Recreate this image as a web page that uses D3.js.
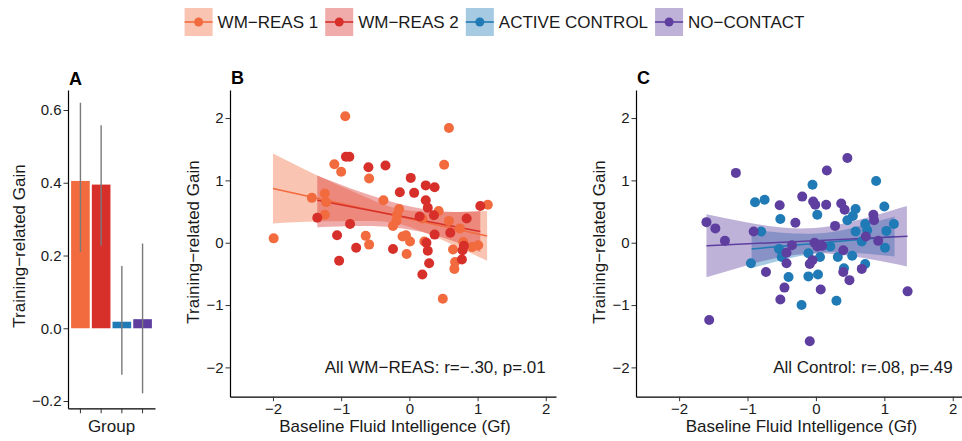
<!DOCTYPE html>
<html>
<head>
<meta charset="utf-8">
<script src="https://cdn.jsdelivr.net/npm/d3@7"></script>
<style>
  body { margin: 0; background: #fff; }
  text { font-family: "Liberation Sans", Arial, Helvetica, sans-serif; }
</style>
</head>
<body>
<script>
// ---- data ----
var groups = ["WM\u2212REAS 1", "WM\u2212REAS 2", "ACTIVE CONTROL", "NO\u2212CONTACT"];

// panel A: mean gain and error bar ends per group
var barMeans = [0.405, 0.395, 0.018, 0.025];
var barLow   = [0.210, 0.227, -0.128, -0.179];
var barHigh  = [0.620, 0.558, 0.171, 0.233];

// panel B points [Gf, gain]
var wm1Points = [[-0.94,2.03],[0.58,1.84],[-1.10,1.26],[-1.00,1.14],[-0.59,1.03],[0.51,1.25],
  [-1.43,0.72],[-1.24,0.79],[-1.22,0.65],[-1.24,0.45],[-0.38,0.68],[-0.15,0.54],[-0.18,0.45],
  [0.43,0.51],[0.19,0.39],[-0.19,0.35],[-0.24,0.27],[-0.64,0.11],[-0.59,-0.03],[-0.10,0.10],
  [-0.05,0.12],[0.01,0.02],[-0.04,-0.18],[0.22,0.02],[0.49,-0.90],[0.58,0.35],[0.64,-0.11],
  [0.67,-0.31],[0.66,-0.42],[0.74,0.23],[0.79,0.01],[0.92,-0.07],[1.01,-0.04],[1.15,0.61],[-1.99,0.07]];
var wm2Points = [[-0.93,1.38],[-0.88,1.38],[-0.60,1.21],[-0.35,1.24],[0.02,1.04],[-0.14,0.81],
  [0.07,0.80],[0.24,0.92],[0.37,0.89],[-1.35,0.40],[0.24,0.68],[0.27,0.56],[0.36,0.44],[0.15,0.42],
  [-0.87,0.30],[-1.06,0.12],[-1.03,-0.29],[-0.78,-0.08],[-0.24,-0.10],[0.19,-0.51],[0.25,0.00],
  [0.27,-0.13],[0.29,-0.33],[0.37,0.13],[0.60,0.16],[0.84,0.39],[0.78,-0.12],[0.77,-0.27],
  [1.04,0.59],[0.80,-0.05]];

// panel C points
var activePoints = [[-0.05,0.93],[0.88,0.99],[-0.89,0.65],[-0.75,0.69],[-0.52,0.38],[0.02,0.45],
  [0.58,0.54],[0.54,0.43],[0.46,0.36],[1.00,0.58],[-0.80,0.18],[0.72,0.30],[0.75,0.20],[0.58,0.18],
  [0.67,0.02],[1.03,0.19],[1.14,0.30],[1.01,-0.08],[-0.54,-0.10],[-0.50,-0.23],[0.21,-0.06],
  [0.06,-0.23],[-0.11,-0.17],[0.32,-0.23],[0.53,-0.21],[0.72,-0.34],[0.41,-0.41],[-0.95,-0.33],
  [-0.40,-0.55],[-0.11,-0.54],[0.03,-0.51],[-0.21,-1.00],[0.30,-0.93]];
var noContactPoints = [[0.46,1.36],[-1.17,1.12],[0.16,1.16],[-0.20,0.74],[-0.04,0.66],[-0.01,0.61],
  [0.15,0.61],[0.37,0.63],[0.42,0.53],[-0.53,0.60],[0.84,0.45],[0.85,0.36],[-0.30,0.32],[0.28,0.27],
  [-1.60,0.33],[-1.47,0.23],[-1.33,0.03],[-0.91,0.18],[0.73,0.10],[0.91,0.03],[-0.35,-0.04],
  [-0.43,-0.16],[-0.02,0.00],[0.02,-0.06],[0.09,-0.05],[-0.05,-0.28],[-0.09,-0.34],[0.40,-0.12],
  [0.67,-0.42],[0.40,-0.47],[0.49,-0.60],[-0.73,-0.47],[-0.43,-0.33],[-0.46,-0.72],[0.07,-0.75],
  [-0.52,-0.91],[1.34,-0.78],[-1.56,-1.24],[-0.09,-1.58]];

// fitted lines [x0, y0, x1, y1] and confidence bands [x, low, high]
var wm1Fit = [-2.0, 0.87, 1.14, 0.107];
var wm2Fit = [-1.35, 0.68, 1.04, 0.18];
var activeFit = [-0.94, -0.10, 1.15, 0.10];
var noContactFit = [-1.60, -0.05, 1.34, 0.105];
var wm1Band = [[-2.0,0.31,1.43],[-1.35,0.34,1.08],[-0.7,0.35,0.76],[-0.15,0.30,0.54],[0.5,0.035,0.49],[1.14,-0.29,0.51]];
var wm2Band = [[-1.35,0.25,1.08],[-0.7,0.27,0.81],[-0.1,0.23,0.61],[0.5,0.08,0.50],[1.04,-0.15,0.51]];
var activeBand = [[-0.94,-0.41,0.21],[-0.5,-0.28,0.16],[0.0,-0.17,0.15],[0.5,-0.155,0.23],[1.15,-0.22,0.42]];
var noContactBand = [[-1.6,-0.555,0.455],[-1.0,-0.36,0.325],[-0.4,-0.21,0.235],[0.2,-0.175,0.265],[0.8,-0.266,0.42],[1.33,-0.38,0.59]];

var xTicks = [-2, -1, 0, 1, 2],
    yTicks = [-2, -1, 0, 1, 2],
    barTicks = [-0.2, 0, 0.2, 0.4, 0.6];

// ---- setup ----
var width = 962, height = 441;
var font = '"Liberation Sans", Arial, Helvetica, sans-serif';
var ink = "#1a1a1a";

var colour = d3.scaleOrdinal()
    .domain(groups)
    .range(["#f26b3f", "#d7302a", "#1f7ab5", "#5e3fa0"]);
var bandOpacity = 0.4;

var svg = d3.select("body").append("svg")
    .attr("width", width)
    .attr("height", height);

function styleAxis(g) {
    g.attr("font-family", font);
    g.select(".domain").attr("stroke", "#000").attr("stroke-width", 1.2);
    g.selectAll(".tick line").attr("stroke", "#333").attr("stroke-width", 1);
    g.selectAll(".tick text").attr("font-size", "15px").attr("fill", ink);
}

function yTitle(x, y) {
    svg.append("text")
        .text("Training\u2212related Gain")
        .attr("transform", "translate(" + x + "," + y + ") rotate(-90)")
        .attr("text-anchor", "middle")
        .attr("font-size", "17px")
        .attr("fill", ink);
}

function panelLabel(t, x, y) {
    svg.append("text")
        .text(t)
        .attr("x", x)
        .attr("y", y)
        .attr("font-size", "18px")
        .attr("font-weight", 700)
        .attr("fill", "#000");
}

// ==== Panel A : bar chart ====
var yA = d3.scaleLinear().domain([-0.22, 0.655]).range([408.3, 90]);
var xA = d3.scaleBand().domain(groups).range([68, 155]).paddingInner(0.1).paddingOuter(0.15);

var barG = svg.append("g");
groups.forEach(function(g, i) {
    var v = barMeans[i];
    barG.append("rect")
        .attr("x", xA(g))
        .attr("width", xA.bandwidth())
        .attr("y", yA(Math.max(0, v)))
        .attr("height", Math.abs(yA(v) - yA(0)))
        .attr("fill", colour(g));
    barG.append("line")
        .attr("x1", xA(g) + xA.bandwidth() / 2)
        .attr("x2", xA(g) + xA.bandwidth() / 2)
        .attr("y1", yA(barLow[i]))
        .attr("y2", yA(barHigh[i]))
        .attr("stroke", "#7a7a7a")
        .attr("stroke-width", 1.4);
});

svg.append("g")
    .attr("transform", "translate(68,0)")
    .call(d3.axisLeft(yA).tickValues(barTicks).tickFormat(d3.format(".1f")).tickSize(4.5).tickPadding(2).tickSizeOuter(0))
    .call(styleAxis);
svg.append("g")
    .attr("transform", "translate(0,408.3)")
    .call(d3.axisBottom(xA).tickFormat("").tickSize(5).tickSizeOuter(0))
    .call(styleAxis);

svg.append("text").text("Group")
    .attr("x", 111.5).attr("y", 432)
    .attr("text-anchor", "middle").attr("font-size", "17px").attr("fill", ink);
yTitle(25, 246);
panelLabel("A", 69, 85);

// ==== Panels B and C : scatter plots ====
function drawScatter(p) {
    var x = d3.scaleLinear().domain([-2.63, 2.15]).range([p.left, p.right]);
    var y = d3.scaleLinear().domain([-2.47, 2.45]).range([396.7, 90]);
    var g = svg.append("g");

    var area = d3.area()
        .x(function(d) { return x(d[0]); })
        .y0(function(d) { return y(d[1]); })
        .y1(function(d) { return y(d[2]); })
        .curve(d3.curveNatural);

    p.series.forEach(function(s) {
        g.append("path")
            .attr("d", area(s.band))
            .attr("fill", colour(s.group))
            .attr("fill-opacity", bandOpacity);
    });
    p.series.forEach(function(s) {
        g.append("line")
            .attr("x1", x(s.fit[0])).attr("y1", y(s.fit[1]))
            .attr("x2", x(s.fit[2])).attr("y2", y(s.fit[3]))
            .attr("stroke", colour(s.group))
            .attr("stroke-width", 1.5);
    });
    p.series.forEach(function(s) {
        g.selectAll(null)
            .data(s.points)
            .enter().append("circle")
            .attr("cx", function(d) { return x(d[0]); })
            .attr("cy", function(d) { return y(d[1]); })
            .attr("r", 5)
            .attr("fill", colour(s.group));
    });

    svg.append("g")
        .attr("transform", "translate(" + p.left + ",0)")
        .call(d3.axisLeft(y).tickValues(yTicks).tickFormat(d3.format("d")).tickSize(4.5).tickPadding(2).tickSizeOuter(0))
        .call(styleAxis);
    svg.append("g")
        .attr("transform", "translate(0,396.7)")
        .call(d3.axisBottom(x).tickValues(xTicks).tickFormat(d3.format("d")).tickSize(4.5).tickPadding(2).tickSizeOuter(0))
        .call(styleAxis);

    svg.append("text").text(p.note)
        .attr("x", x(2)).attr("y", y(-2.09))
        .attr("text-anchor", "end").attr("font-size", "17px").attr("fill", ink);
    svg.append("text").text("Baseline Fluid Intelligence (Gf)")
        .attr("x", (p.left + p.right) / 2 + 2).attr("y", 432)
        .attr("text-anchor", "middle").attr("font-size", "17px").attr("fill", ink);
    yTitle(p.left - 31, 242);
    panelLabel(p.label, p.left + 1, 84);
}

drawScatter({
    left: 230, right: 556, label: "B",
    note: "All WM\u2212REAS: r=\u2212.30, p=.01",
    series: [
        { group: groups[0], points: wm1Points, fit: wm1Fit, band: wm1Band },
        { group: groups[1], points: wm2Points, fit: wm2Fit, band: wm2Band }
    ]
});
drawScatter({
    left: 636, right: 963, label: "C",
    note: "All Control: r=.08, p=.49",
    series: [
        { group: groups[2], points: activePoints, fit: activeFit, band: activeBand },
        { group: groups[3], points: noContactPoints, fit: noContactFit, band: noContactBand }
    ]
});

// ==== Legend ====
var key = 28, keyGap = 5, itemGap = 7;
var leg = svg.append("g");
var cursor = 0;
groups.forEach(function(g) {
    var item = leg.append("g").attr("transform", "translate(" + cursor + ",0)");
    item.append("rect")
        .attr("x", 0).attr("y", 0).attr("width", key).attr("height", key)
        .attr("fill", colour(g)).attr("fill-opacity", bandOpacity);
    item.append("line")
        .attr("x1", 0).attr("x2", key).attr("y1", key / 2).attr("y2", key / 2)
        .attr("stroke", colour(g)).attr("stroke-width", 1.6);
    item.append("circle")
        .attr("cx", key / 2).attr("cy", key / 2).attr("r", 4.5)
        .attr("fill", colour(g));
    var t = item.append("text")
        .text(g)
        .attr("x", key + keyGap).attr("y", key / 2)
        .attr("dy", "0.36em")
        .attr("font-size", "17px")
        .attr("fill", ink);
    cursor += key + keyGap + t.node().getComputedTextLength() + itemGap;
});
cursor -= itemGap;
leg.attr("transform", "translate(" + (494.5 - cursor / 2) + ",8)");
</script>
</body>
</html>
